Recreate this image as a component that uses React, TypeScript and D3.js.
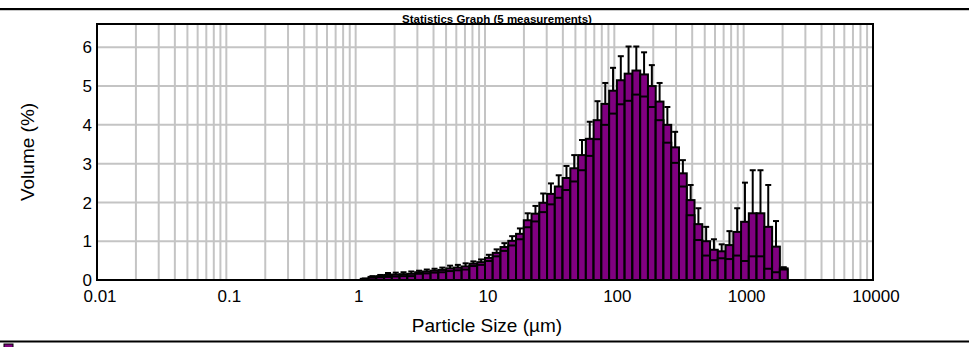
import React from 'react';
import * as d3 from 'd3';

const chartTitle = 'Statistics Graph (5 measurements)';
const xAxisTitle = 'Particle Size (µm)';
const yAxisTitle = 'Volume (%)';
const xTicks = [0.01, 0.1, 1, 10, 100, 1000, 10000];
const xTickLabels = ['0.01', '0.1', '1', '10', '100', '1000', '10000'];
const yTicks = [0, 1, 2, 3, 4, 5, 6];

// size classes: 100 log-spaced classes between 0.01 and 10000 µm
const classCount = 100;
const firstClass = 34;
const meanVolume = [
  0.03, 0.08, 0.10, 0.13, 0.14, 0.15, 0.16, 0.20, 0.22, 0.24,
  0.26, 0.30, 0.32, 0.35, 0.42, 0.46, 0.57, 0.70, 0.85, 1.01,
  1.19, 1.54, 1.71, 1.99, 2.22, 2.41, 2.63, 2.88, 3.22, 3.64,
  4.12, 4.54, 4.88, 5.15, 5.32, 5.40, 5.30, 5.00, 4.60, 4.00,
  3.42, 2.75, 2.06, 1.44, 1.00, 0.78, 0.74, 0.90, 1.24, 1.50,
  1.72, 1.72, 1.37, 0.86, 0.30,
];
const sdVolume = [
  0.01, 0.02, 0.03, 0.05, 0.05, 0.05, 0.06, 0.04, 0.05, 0.05,
  0.06, 0.07, 0.07, 0.08, 0.06, 0.07, 0.08, 0.09, 0.10, 0.12,
  0.14, 0.18, 0.20, 0.24, 0.27, 0.29, 0.31, 0.34, 0.39, 0.44,
  0.49, 0.54, 0.59, 0.62, 0.70, 0.62, 0.57, 0.54, 0.48, 0.46,
  0.40, 0.34, 0.39, 0.41, 0.37, 0.27, 0.18, 0.36, 0.61, 1.01,
  1.11, 1.11, 1.08, 0.66, 0.03,
];

const W = 969;
const H = 347;
const L = 97, R = 873, T = 24, B = 280;
const purple = '#800080';
const grid = '#c4c4c4';
const font = 'Arial, "Liberation Sans", sans-serif';

export default function App() {
  const x = d3.scaleLog().domain([0.01, 10000]).range([L, R]);
  const y = d3.scaleLinear().domain([0, 6.6]).range([B, T]);
  const edges = d3.range(classCount + 1).map((i) => 0.01 * Math.pow(10, (6 * i) / classCount));

  const minor: number[] = [];
  for (let e = -2; e < 4; e++) {
    for (let m = 1; m <= 9; m++) {
      const v = m * Math.pow(10, e);
      if (v > 0.01) minor.push(v);
    }
  }

  const bars = meanVolume.map((m, i) => {
    const k = firstClass + i;
    const x0 = x(edges[k]);
    const x1 = x(edges[k + 1]);
    return { x0, x1, cx: (x0 + x1) / 2, mean: m, sd: sdVolume[i] };
  });

  return (
    <svg width={W} height={H} style={{ position: 'absolute', left: 0, top: 0, background: '#fff' }}>
      <rect x={0} y={0} width={W} height={H} fill="#fff" />
      <line x1={0} x2={W} y1={9} y2={9} stroke="#000" strokeWidth={2} />
      <line x1={0} x2={W} y1={10.5} y2={10.5} stroke="#c8c8c8" strokeWidth={1} />
      {minor.map((v, i) => (
        <line key={'vg' + i} x1={x(v)} x2={x(v)} y1={T} y2={B} stroke={grid} strokeWidth={2} />
      ))}
      {yTicks.filter((t) => t > 0).map((t) => (
        <line key={'hg' + t} x1={L} x2={R} y1={y(t)} y2={y(t)} stroke={grid} strokeWidth={2} />
      ))}
      {bars.map((b, i) => (
        <g key={'b' + i}>
          <rect x={b.x0} y={y(b.mean)} width={b.x1 - b.x0} height={B - y(b.mean)} fill={purple} stroke="#000" strokeWidth={2} />
          <rect x={b.x0} y={y(Math.max(0, b.mean - b.sd))} width={b.x1 - b.x0} height={B - y(Math.max(0, b.mean - b.sd))} fill={purple} stroke="#000" strokeWidth={2} />
        </g>
      ))}
      {bars.map((b, i) => (
        <g key={'e' + i}>
          <line x1={b.cx} x2={b.cx} y1={y(b.mean)} y2={y(b.mean + b.sd)} stroke="#000" strokeWidth={2} />
          <line x1={b.cx - 3} x2={b.cx + 3} y1={y(b.mean + b.sd)} y2={y(b.mean + b.sd)} stroke="#000" strokeWidth={2} />
        </g>
      ))}
      <rect x={L} y={T} width={R - L} height={B - T} fill="none" stroke="#000" strokeWidth={2} />
      <text x={497} y={23} textAnchor="middle" fontFamily={font} fontWeight="bold" fontSize={11.5} fill="#000">
        {chartTitle}
      </text>
      {yTicks.map((t) => (
        <text key={'yt' + t} x={92} y={y(t)} dy="0.36em" textAnchor="end" fontFamily={font} fontSize={17} fill="#000">
          {t}
        </text>
      ))}
      {xTicks.map((t, i) => (
        <text key={'xt' + t} x={x(t) + 3} y={302} textAnchor="middle" fontFamily={font} fontSize={17} fill="#000">
          {xTickLabels[i]}
        </text>
      ))}
      <text x={487} y={332} textAnchor="middle" fontFamily={font} fontSize={19} fill="#000">
        {xAxisTitle}
      </text>
      <text transform={`translate(34,152) rotate(-90)`} textAnchor="middle" fontFamily={font} fontSize={19} fill="#000">
        {yAxisTitle}
      </text>
      <line x1={0} x2={W} y1={341.5} y2={341.5} stroke="#000" strokeWidth={2} />
      <rect x={4} y={344} width={9} height={10} fill={purple} stroke="#000" strokeWidth={1} />
    </svg>
  );
}
